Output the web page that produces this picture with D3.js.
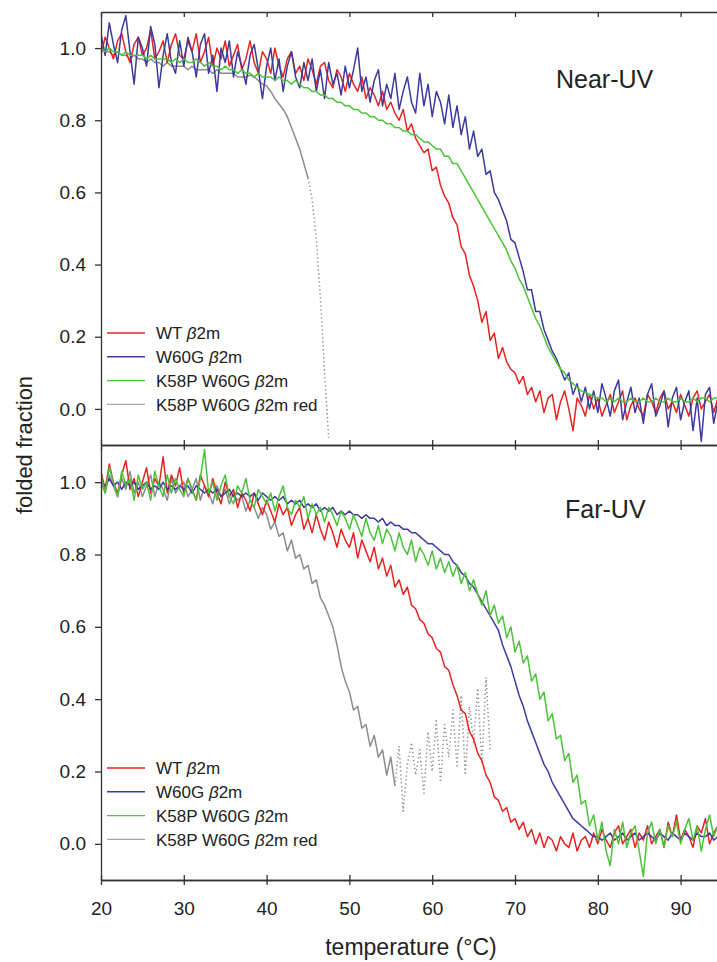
<!DOCTYPE html>
<html>
<head>
<meta charset="utf-8">
<title>folded fraction</title>
<script src="https://cdn.jsdelivr.net/npm/d3@7"></script>
<style>
  body { margin: 0; background: #fff; }
  text { font-family: "Liberation Sans", Arial, sans-serif; fill: #222; }
  .axis path, .axis line { stroke: #333; stroke-width: 1.3; }
  .axis text { font-size: 19px; fill: #222; }
  .trace { fill: none; stroke-width: 1.5; stroke-linejoin: round; }
  .legend text { font-size: 17px; }
</style>
</head>
<body>
<script>
// samples every 0.5 °C
var STEP = 0.5;

var xTicks = [20, 30, 40, 50, 60, 70, 80, 90];
var yTicks = [0, 0.2, 0.4, 0.6, 0.8, 1.0];

var legendPre = ["WT ", "W60G ", "K58P W60G ", "K58P W60G "];
var legendPost = ["", "", "", " red"];
var colors = ["#e52421", "#3b3a9e", "#4cc23a", "#8c8c8c"];

// ---- Near-UV (start 20 °C)
var nearWT = [
  0.98, 1.03, 1.00, 0.97, 1.02, 1.04, 0.99, 0.96, 1.01, 1.03, 0.98, 1.00, 1.05, 0.97, 0.99, 1.02, 0.96, 1.01, 1.04, 0.98,
  0.97, 1.02, 0.99, 1.04, 0.96, 0.99, 1.03, 0.95, 1.00, 0.97, 1.02, 0.95, 0.98, 1.01, 0.94, 0.97, 1.02, 0.96, 0.93, 0.99,
  0.97, 0.93, 1.00, 0.95, 0.92, 0.97, 0.99, 0.93, 0.95, 0.91, 0.97, 0.94, 0.90, 0.95, 0.96, 0.91, 0.89, 0.94, 0.92, 0.88,
  0.93, 0.90, 0.88, 0.92, 0.86, 0.89, 0.87, 0.84, 0.88, 0.83, 0.85, 0.82, 0.80, 0.83, 0.77, 0.79, 0.75, 0.73, 0.71, 0.72,
  0.66, 0.67, 0.62, 0.59, 0.57, 0.53, 0.51, 0.45, 0.43, 0.37, 0.34, 0.30, 0.24, 0.27, 0.19, 0.21, 0.14, 0.17, 0.13, 0.11,
  0.10, 0.07, 0.09, 0.04, 0.06, 0.02, 0.05, -0.01, 0.03, 0.04, -0.03, 0.02, 0.05, 0.00, -0.06, 0.03, 0.01, -0.02, 0.04, 0.00,
  0.03, -0.02, 0.01, 0.04, -0.01, 0.02, 0.05, -0.03, 0.01, 0.03, 0.00, -0.02, 0.04, 0.02, -0.01, 0.03, 0.05, 0.00, 0.02, -0.01,
  0.04, 0.01, -0.02, 0.03, 0.05, 0.00, 0.02, 0.04, -0.01, 0.03, 0.02
];
var nearW60G = [
  1.04, 0.98, 1.07, 1.01, 0.96, 1.05, 1.09, 0.99, 0.90, 1.03, 1.00, 0.95, 1.06, 1.01, 0.89, 0.98, 1.04, 0.96, 0.93, 1.02,
  0.95, 1.03, 0.99, 0.92, 1.01, 1.04, 0.93, 0.98, 0.88, 1.00, 0.96, 1.02, 0.92, 0.99, 0.95, 0.90, 0.98, 1.01, 0.94, 0.86,
  0.95, 1.00, 0.91, 0.97, 0.88, 0.95, 0.99, 0.92, 0.89, 0.96, 0.91, 0.97, 0.88, 0.94, 0.86, 0.96, 0.90, 0.93, 0.87, 0.95,
  0.89, 0.94, 1.00, 0.88, 0.92, 0.85, 0.91, 0.94, 0.84, 0.90, 0.86, 0.93, 0.83, 0.88, 0.92, 0.85, 0.82, 0.93, 0.84, 0.90,
  0.81, 0.88, 0.85, 0.79, 0.87, 0.78, 0.84, 0.76, 0.81, 0.72, 0.77, 0.70, 0.72, 0.65, 0.66, 0.60, 0.58, 0.55, 0.52, 0.47,
  0.46, 0.42, 0.38, 0.33, 0.33, 0.27, 0.27, 0.22, 0.19, 0.16, 0.14, 0.11, 0.08, 0.10, 0.04, 0.07, 0.02, 0.06, 0.00, 0.05,
  -0.01, 0.07, 0.03, -0.02, 0.05, 0.08, -0.03, 0.02, 0.06, -0.01, 0.03, -0.04, 0.04, 0.07, -0.02, 0.01, 0.05, -0.05, 0.03, 0.06,
  -0.03, 0.02, 0.05, -0.06, 0.03, -0.09, 0.04, 0.06, -0.04, 0.02, 0.07
];
var nearK58P = [
  1.00, 0.99, 1.00, 0.99, 0.99, 0.98, 0.99, 0.98, 0.98, 0.98, 0.98, 0.97, 0.98, 0.97, 0.97, 0.97, 0.97, 0.96, 0.97, 0.96,
  0.97, 0.96, 0.96, 0.97, 0.96, 0.95, 0.96, 0.95, 0.95, 0.94, 0.95, 0.94, 0.94, 0.93, 0.94, 0.93, 0.93, 0.92, 0.93, 0.92,
  0.92, 0.92, 0.91, 0.92, 0.91, 0.91, 0.90, 0.91, 0.90, 0.89, 0.89, 0.88, 0.88, 0.87, 0.87, 0.86, 0.86, 0.85, 0.85, 0.84,
  0.84, 0.83, 0.83, 0.82, 0.82, 0.81, 0.81, 0.80, 0.80, 0.79, 0.79, 0.78, 0.78, 0.77, 0.77, 0.76, 0.76, 0.75, 0.74, 0.74,
  0.73, 0.72, 0.72, 0.70, 0.70, 0.68, 0.68, 0.66, 0.64, 0.62, 0.60, 0.58, 0.56, 0.54, 0.52, 0.50, 0.48, 0.46, 0.44, 0.41,
  0.39, 0.36, 0.34, 0.31, 0.28, 0.25, 0.23, 0.20, 0.17, 0.15, 0.13, 0.11, 0.10, 0.08, 0.07, 0.06, 0.05, 0.045, 0.04, 0.035,
  0.03, 0.03, 0.02, 0.03, 0.02, 0.03, 0.02, 0.02, 0.03, 0.02, 0.02, 0.03, 0.02, 0.02, 0.03, 0.02, 0.02, 0.03, 0.02, 0.02,
  0.03, 0.02, 0.02, 0.03, 0.02, 0.03, 0.03, 0.02, 0.03, 0.03, 0.03
];
// reduced sample: solid 20-45 °C, dotted 45-47.5 °C
var nearRedSolid = [
  1.00, 0.99, 0.99, 0.98, 0.99, 0.98, 0.98, 0.97, 0.98, 0.97, 0.97, 0.96, 0.97, 0.96, 0.96, 0.95, 0.96, 0.95, 0.95, 0.95,
  0.95, 0.94, 0.95, 0.94, 0.94, 0.94, 0.94, 0.93, 0.94, 0.93, 0.93, 0.93, 0.93, 0.92, 0.92, 0.92, 0.925, 0.92, 0.91, 0.90,
  0.895, 0.88, 0.86, 0.845, 0.83, 0.81, 0.78, 0.75, 0.72, 0.68, 0.64
];
var nearRedDotStart = 45;
var nearRedDot = [0.64, 0.58, 0.47, 0.31, 0.10, -0.08];

// ---- Far-UV (start 20 °C)
var farWT = [
  1.03, 0.98, 1.05, 1.00, 0.97, 1.02, 1.06, 0.98, 1.01, 0.96, 1.00, 1.04, 0.97, 1.01, 0.99, 1.07, 0.97, 1.02, 0.99, 1.04,
  0.97, 1.01, 0.98, 0.95, 1.02, 0.99, 0.96, 1.01, 0.97, 0.94, 1.00, 0.96, 0.98, 0.93, 0.97, 0.95, 0.92, 0.97, 0.94, 0.91,
  0.95, 0.92, 0.89, 0.94, 0.91, 0.93, 0.88, 0.91, 0.93, 0.87, 0.90, 0.86, 0.91, 0.87, 0.84, 0.89, 0.86, 0.82, 0.87, 0.84,
  0.82, 0.86, 0.79, 0.84, 0.81, 0.78, 0.82, 0.76, 0.79, 0.74, 0.77, 0.71, 0.73, 0.69, 0.71, 0.66, 0.65, 0.62, 0.61, 0.58,
  0.57, 0.54, 0.53, 0.49, 0.48, 0.44, 0.41, 0.37, 0.36, 0.31, 0.29, 0.25, 0.23, 0.19, 0.17, 0.13, 0.12, 0.09, 0.10, 0.06,
  0.07, 0.04, 0.06, 0.02, 0.04, 0.00, 0.03, -0.01, 0.02, 0.01, -0.02, 0.02, 0.00, -0.01, 0.03, -0.02, 0.01, 0.02, -0.01, 0.03,
  0.00, 0.04, 0.01, -0.01, 0.03, 0.05, 0.00, 0.02, 0.04, -0.01, 0.03, 0.01, 0.05, 0.00, 0.02, 0.04, -0.01, 0.06, 0.02, 0.08,
  0.01, 0.04, 0.02, -0.01, 0.05, 0.03, 0.07, 0.00, 0.03, 0.05, 0.02
];
var farW60G = [
  1.00, 0.99, 1.01, 0.99, 1.00, 0.98, 1.00, 0.99, 1.00, 0.98, 0.99, 1.00, 0.98, 0.99, 0.98, 1.00, 0.98, 0.99, 0.98, 0.99,
  0.98, 0.99, 0.97, 0.99, 0.98, 0.97, 0.98, 0.97, 0.98, 0.96, 0.97, 0.98, 0.96, 0.97, 0.96, 0.97, 0.96, 0.97, 0.95, 0.97,
  0.96, 0.95, 0.96, 0.95, 0.96, 0.94, 0.95, 0.94, 0.95, 0.93, 0.94, 0.93, 0.94, 0.92, 0.93, 0.92, 0.93, 0.91, 0.92, 0.91,
  0.92, 0.91, 0.91, 0.90, 0.91, 0.90, 0.90, 0.89, 0.90, 0.88, 0.89, 0.88, 0.88, 0.87, 0.87, 0.86, 0.86, 0.85, 0.84, 0.83,
  0.83, 0.82, 0.81, 0.80, 0.80, 0.78, 0.77, 0.75, 0.74, 0.72, 0.71, 0.69, 0.67, 0.65, 0.63, 0.61, 0.59, 0.55, 0.52, 0.49,
  0.45, 0.41, 0.38, 0.34, 0.31, 0.28, 0.25, 0.22, 0.20, 0.17, 0.15, 0.13, 0.11, 0.09, 0.07, 0.06, 0.05, 0.04, 0.03, 0.02,
  0.02, 0.01, 0.02, 0.03, 0.01, 0.02, 0.03, 0.01, 0.02, 0.03, 0.01, 0.02, 0.03, 0.02, 0.01, 0.03, 0.02, 0.01, 0.03, 0.02,
  0.01, 0.03, 0.02, 0.01, 0.03, 0.02, 0.02, 0.03, 0.01, 0.02, 0.03
];
var farK58P = [
  1.02, 0.97, 1.04, 1.00, 0.96, 1.03, 0.99, 1.01, 0.95, 1.02, 0.98, 1.00, 0.95, 1.03, 0.99, 0.96, 1.02, 0.97, 1.01, 0.98,
  0.96, 1.01, 0.98, 0.95, 1.01, 1.09, 0.97, 1.00, 0.95, 0.99, 1.02, 0.96, 0.94, 0.99, 0.97, 1.01, 0.95, 0.93, 0.98, 0.96,
  0.94, 0.97, 0.92, 0.96, 0.99, 0.93, 0.91, 0.95, 0.93, 0.96, 0.90, 0.94, 0.91, 0.93, 0.89, 0.93, 0.91, 0.88, 0.92, 0.90,
  0.87, 0.91, 0.88, 0.85, 0.90, 0.86, 0.84, 0.88, 0.83, 0.87, 0.85, 0.81, 0.86, 0.82, 0.80, 0.84, 0.78, 0.82, 0.80, 0.77,
  0.81, 0.76, 0.79, 0.75, 0.78, 0.74, 0.77, 0.72, 0.75, 0.70, 0.73, 0.69, 0.66, 0.70, 0.63, 0.66, 0.61, 0.63, 0.57, 0.60,
  0.53, 0.56, 0.50, 0.52, 0.45, 0.47, 0.40, 0.42, 0.34, 0.36, 0.29, 0.30, 0.23, 0.25, 0.17, 0.19, 0.11, 0.12, 0.05, 0.08,
  0.01, 0.06, -0.02, -0.06, 0.04, 0.00, 0.06, -0.01, 0.03, 0.05, -0.02, -0.09, 0.03, 0.06, 0.00, 0.04, -0.01, 0.05, 0.02, 0.06,
  0.00, 0.04, 0.07, 0.01, 0.05, -0.02, 0.04, 0.08, 0.02, 0.05, 0.01
];
// reduced sample: solid 20-55.5 °C, dotted 55.5-67 °C
var farRedSolid = [
  1.00, 0.97, 1.02, 0.99, 0.96, 1.01, 0.98, 1.03, 0.97, 1.00, 0.96, 0.99, 1.02, 0.96, 1.00, 0.98, 0.95, 1.01, 0.97, 0.99,
  1.00, 0.96, 0.98, 1.01, 0.95, 0.99, 0.97, 0.94, 0.99, 0.96, 0.98, 0.94, 0.97, 0.95, 0.96, 0.92, 0.95, 0.93, 0.90, 0.93,
  0.91, 0.87, 0.89, 0.85, 0.86, 0.81, 0.84, 0.79, 0.80, 0.76, 0.77, 0.72, 0.73, 0.68, 0.66, 0.63, 0.60, 0.55, 0.49, 0.45,
  0.42, 0.37, 0.38, 0.32, 0.33, 0.27, 0.30, 0.24, 0.26, 0.19, 0.24, 0.16
];
var farRedDotStart = 55.5;
var farRedDot = [
  0.16, 0.27, 0.09, 0.22, 0.28, 0.19, 0.26, 0.14, 0.31, 0.20, 0.34, 0.17,
  0.33, 0.24, 0.37, 0.21, 0.41, 0.19, 0.38, 0.28, 0.43, 0.22, 0.46, 0.26
];

function pts(vals, start) {
  return vals.map(function (v, i) { return [start + i * STEP, v]; });
}

var W = 717, H = 962;
var svg = d3.select("body").append("svg")
  .attr("width", W).attr("height", H)
  .style("display", "block");

var x = d3.scaleLinear().domain([20, 95]).range([101, 722]);
var yNear = d3.scaleLinear().domain([-0.1, 1.1]).range([445, 12]);
var yFar = d3.scaleLinear().domain([-0.1, 1.1]).range([880, 446]);

var panels = [
  {
    id: "near", y: yNear, top: 12, bottom: 445, title: "Near-UV", tx: 556, ty: 88, ly: 333,
    solid: [nearWT, nearW60G, nearK58P], redSolid: nearRedSolid,
    redDot: nearRedDot, dotStart: nearRedDotStart
  },
  {
    id: "far", y: yFar, top: 445, bottom: 880, title: "Far-UV", tx: 565, ty: 518, ly: 768,
    solid: [farWT, farW60G, farK58P], redSolid: farRedSolid,
    redDot: farRedDot, dotStart: farRedDotStart
  }
];

var defs = svg.append("defs");

panels.forEach(function (p) {
  defs.append("clipPath").attr("id", "clip-" + p.id)
    .append("rect")
    .attr("x", 101).attr("y", p.top)
    .attr("width", W - 101).attr("height", p.bottom - p.top);

  var line = d3.line()
    .x(function (d) { return x(d[0]); })
    .y(function (d) { return p.y(d[1]); });

  var g = svg.append("g").attr("clip-path", "url(#clip-" + p.id + ")");

  // reduced sample underneath
  g.append("path").attr("class", "trace")
    .attr("stroke", colors[3])
    .attr("d", line(pts(p.redSolid, 20)));
  g.append("path").attr("class", "trace")
    .attr("stroke", colors[3])
    .attr("stroke-width", 1.3)
    .attr("stroke-dasharray", "1.3,2.7")
    .attr("d", line(pts(p.redDot, p.dotStart)));

  p.solid.forEach(function (vals, i) {
    g.append("path").attr("class", "trace")
      .attr("stroke", colors[i])
      .attr("d", line(pts(vals, 20)));
  });

  // left axis
  svg.append("g").attr("class", "axis")
    .attr("transform", "translate(101,0)")
    .call(d3.axisLeft(p.y).tickValues(yTicks).tickSize(6).tickSizeOuter(0)
      .tickPadding(9).tickFormat(d3.format(".1f")));

  // panel title
  svg.append("text")
    .attr("x", p.tx).attr("y", p.ty)
    .style("font-size", "25px")
    .text(p.title);

  // legend
  var lg = svg.append("g").attr("class", "legend");
  legendPre.forEach(function (pre, i) {
    var yy = p.ly + i * 23.8;
    lg.append("line")
      .attr("x1", 107).attr("x2", 145)
      .attr("y1", yy).attr("y2", yy)
      .attr("stroke", i === 3 ? "#a6a6a6" : colors[i])
      .attr("stroke-width", 1.4);
    var t = lg.append("text").attr("x", 156).attr("y", yy).attr("dy", "0.36em");
    t.append("tspan").text(pre);
    t.append("tspan").style("font-style", "italic").text("\u03b2");
    t.append("tspan").text("2m" + legendPost[i]);
  });
});

// horizontal frame lines / ticks
var noLab = function () { return ""; };
svg.append("g").attr("class", "axis")
  .attr("transform", "translate(0,12)")
  .call(d3.axisBottom(x).tickValues(xTicks).tickSize(5).tickSizeOuter(0).tickFormat(noLab));
svg.append("g").attr("class", "axis")
  .attr("transform", "translate(0,445)")
  .call(d3.axisBottom(x).tickValues(xTicks).tickSize(5).tickSizeOuter(0).tickFormat(noLab));
svg.append("g").attr("class", "axis")
  .attr("transform", "translate(0,445)")
  .call(d3.axisTop(x).tickValues(xTicks).tickSize(5).tickSizeOuter(0).tickFormat(noLab));
svg.append("g").attr("class", "axis")
  .attr("transform", "translate(0,880)")
  .call(d3.axisTop(x).tickValues(xTicks).tickSize(5).tickSizeOuter(0).tickFormat(noLab));
svg.append("g").attr("class", "axis")
  .attr("transform", "translate(0,880)")
  .call(d3.axisBottom(x).tickValues(xTicks).tickSize(5).tickSizeOuter(0).tickPadding(17));

// axis titles
svg.append("text")
  .attr("x", 411).attr("y", 955)
  .attr("text-anchor", "middle")
  .style("font-size", "23px")
  .text("temperature (\u00b0C)");

svg.append("text")
  .attr("transform", "translate(32,445) rotate(-90)")
  .attr("text-anchor", "middle")
  .style("font-size", "22px")
  .text("folded fraction");
</script>
</body>
</html>
